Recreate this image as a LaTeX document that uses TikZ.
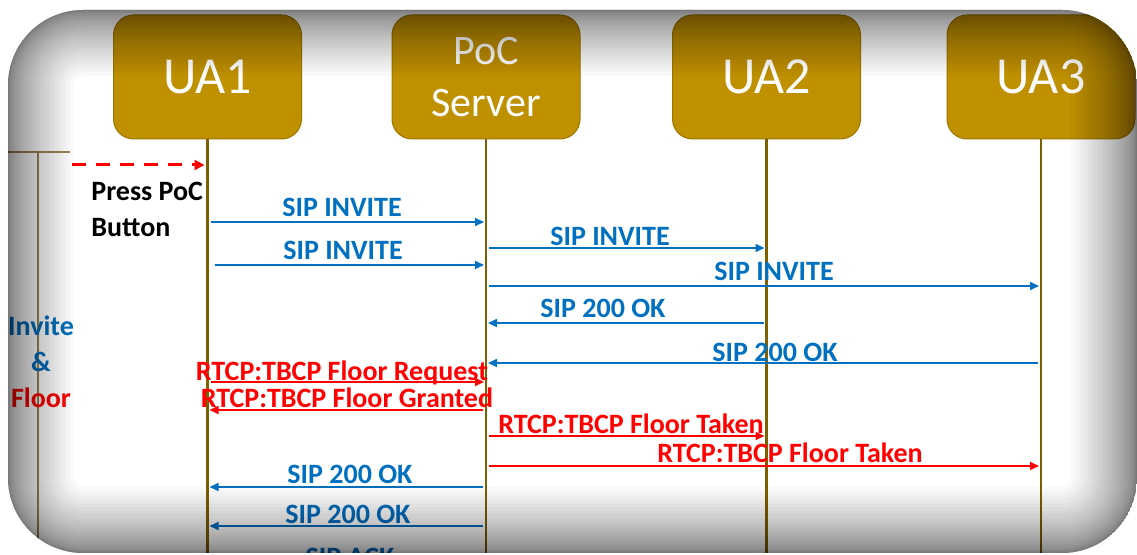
\documentclass[tikz,border=0pt]{standalone}
\usepackage{fontspec}
\setmainfont{Carlito}
\usetikzlibrary{arrows.meta}
\definecolor{gold}{HTML}{BF9000}
\definecolor{goldedge}{HTML}{9E7700}
\definecolor{life}{HTML}{7F6000}
\definecolor{sipblue}{HTML}{0070C0}
\definecolor{bracket}{HTML}{9C8755}
\begin{document}
\begin{tikzpicture}[x=0.5pt,y=-0.5pt,
  actor/.style={draw=goldedge, line width=0.5pt, fill=gold, rounded corners=10pt,
    minimum width=94pt, minimum height=62pt, text=white, align=center, inner sep=0pt},
  lifeline/.style={draw=life, line width=1.2pt},
  sip/.style={draw=sipblue, line width=0.8pt, shorten >=1pt, shorten <=1.5pt,
    -{Triangle[length=4.5pt,width=4pt]}},
  rtcp/.style={draw=red, line width=0.8pt, shorten >=1pt, shorten <=1.5pt,
    -{Triangle[length=4.5pt,width=4pt]}},
  msgfont/.style={font=\fontsize{14}{16}\selectfont\bfseries, anchor=base, inner sep=0pt},
  siplabel/.style={msgfont, text=sipblue},
  rtcplabel/.style={msgfont, text=red},
  brace/.style={draw=bracket, line width=1pt}
]
\useasboundingbox (0,0) rectangle (1137,555);

% white page and rounded panel
\fill[white] (0,0) rectangle (1137,555);

\begin{scope}
\clip[rounded corners=37.5pt] (8,10) rectangle (1137,553);

% actors
\node[actor, font=\fontsize{26}{28}\selectfont] (ua1) at (207.5,77) {UA1};
\node[actor, font=\fontsize{21}{26}\selectfont] (srv) at (486,77) {PoC\\Server};
\node[actor, font=\fontsize{26}{28}\selectfont] (ua2) at (766.5,77) {UA2};
\node[actor, font=\fontsize{26}{28}\selectfont] (ua3) at (1041,77) {UA3};

\coordinate (bottom) at (0,560);
\draw[lifeline] (ua1.south) -- (ua1.south |- bottom);
\draw[lifeline] (srv.south) -- (srv.south |- bottom);
\draw[lifeline] (ua2.south) -- (ua2.south |- bottom);
\draw[lifeline] (ua3.south) -- (ua3.south |- bottom);

% phase bracket on the left
\coordinate (brL) at (0,152);
\coordinate (brR) at (70,152);
\coordinate (brB) at (38,560);
\draw[brace] (brL) -- (brR);
\draw[brace] (brB |- brR) -- (brB);
\node[inner sep=0pt, align=center, font=\fontsize{14}{18}\selectfont\bfseries, anchor=base]
  (phase) at (41,408) {\textcolor{sipblue}{Invite}\\\textcolor{sipblue}{\&}\\\textcolor{red}{Floor}};

% user action
\coordinate (press) at (72,165);
\draw[red, line width=1.5pt, dash pattern=on 7pt off 5pt, shorten >=1.5pt,
  -{Triangle[length=5pt,width=5pt]}] (press) -- (ua1.south |- press);
\node[inner sep=0pt, anchor=base west, align=left, font=\fontsize{14}{18}\selectfont\bfseries]
  (btn) at (91,237) {Press PoC\\Button};

% message rows
\coordinate (m1) at (0,222);
\coordinate (m2) at (0,248);
\coordinate (m3) at (0,265);
\coordinate (m4) at (0,286);
\coordinate (m5) at (0,323);
\coordinate (m6) at (0,363);
\coordinate (m7) at (0,382);
\coordinate (m8) at (0,410);
\coordinate (m9) at (0,436);
\coordinate (m10) at (0,466);
\coordinate (m11) at (0,487);
\coordinate (m12) at (0,526);

\draw[sip] (ua1.south |- m1) -- (srv.south |- m1);
\node[siplabel] (l1) at (342,217) {SIP INVITE};
\draw[sip] (srv.south |- m2) -- (ua2.south |- m2);
\node[siplabel] (l2) at (610,246) {SIP INVITE};
\draw[sip, shorten <=3.5pt] (ua1.south |- m3) -- (srv.south |- m3);
\node[siplabel] (l3) at (343,260) {SIP INVITE};
\draw[sip] (srv.south |- m4) -- (ua3.south |- m4);
\node[siplabel] (l4) at (774,281) {SIP INVITE};
\draw[sip] (ua2.south |- m5) -- (srv.south |- m5);
\node[siplabel] (l5) at (603,318) {SIP 200 OK};
\draw[sip] (ua3.south |- m6) -- (srv.south |- m6);
\node[siplabel] (l6) at (775,362) {SIP 200 OK};

\draw[rtcp] (ua1.south |- m7) -- (srv.south |- m7);
\node[rtcplabel] (l7) at (342,381) {RTCP:TBCP Floor Request};
\draw[rtcp] (srv.south |- m8) -- (ua1.south |- m8);
\node[rtcplabel] (l8) at (347,408) {RTCP:TBCP Floor Granted};
\draw[rtcp] (srv.south |- m9) -- (ua2.south |- m9);
\node[rtcplabel] (l9) at (631,434) {RTCP:TBCP Floor Taken};
\draw[rtcp] (srv.south |- m10) -- (ua3.south |- m10);
\node[rtcplabel] (l10) at (790,463) {RTCP:TBCP Floor Taken};

\draw[sip] (srv.south |- m11) -- (ua1.south |- m11);
\node[siplabel] (l11) at (350,484) {SIP 200 OK};
\draw[sip] (srv.south |- m12) -- (ua1.south |- m12);
\node[siplabel] (l12) at (348,524) {SIP 200 OK};
\node[siplabel] (l13) at (350,567) {SIP ACK};

% soft inner shadow of the panel
\foreach \i in {1,...,30} {
  \pgfmathsetmacro\t{66*(\i/30)^2}
  \pgfmathsetmacro\r{max(2,(75-\t)*0.5)}
  \fill[black, fill opacity=0.022, even odd rule]
    [rounded corners=37.5pt] (8,10) rectangle (1137,553)
    [rounded corners=\r pt] ({8+\t},{10+\t}) rectangle ({1137-\t},{553-\t});
}
\end{scope}
\end{tikzpicture}
\end{document}
